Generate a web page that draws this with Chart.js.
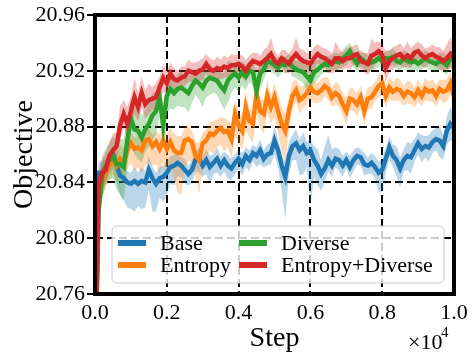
<!DOCTYPE html>
<html>
<head>
<meta charset="utf-8">
<script src="https://cdn.jsdelivr.net/npm/chart.js@4.4.1/dist/chart.umd.min.js"></script>
<style>
  html, body { margin: 0; padding: 0; background: #fff; }
  #wrap { width: 475px; height: 359px; }
</style>
</head>
<body>
<div id="wrap"><canvas id="objChart" width="475" height="359"></canvas></div>
<script>
// training steps (x values)
var steps = [
    0, 100, 200, 300, 400, 500, 600, 700, 800, 900,
    1000, 1100, 1200, 1300, 1400, 1500, 1600, 1700, 1800, 1900,
    2000, 2100, 2200, 2300, 2400, 2500, 2600, 2700, 2800, 2900,
    3000, 3100, 3200, 3300, 3400, 3500, 3600, 3700, 3800, 3900,
    4000, 4100, 4200, 4300, 4400, 4500, 4600, 4700, 4800, 4900,
    5000, 5100, 5200, 5300, 5400, 5500, 5600, 5700, 5800, 5900,
    6000, 6100, 6200, 6300, 6400, 6500, 6600, 6700, 6800, 6900,
    7000, 7100, 7200, 7300, 7400, 7500, 7600, 7700, 7800, 7900,
    8000, 8100, 8200, 8300, 8400, 8500, 8600, 8700, 8800, 8900,
    9000, 9100, 9200, 9300, 9400, 9500, 9600, 9700, 9800, 9900,
    10000
];

var baseMean = [
    20.70, 20.847, 20.847, 20.850, 20.855, 20.860, 20.852, 20.845, 20.843, 20.840,
    20.839, 20.841, 20.839, 20.841, 20.840, 20.849, 20.843, 20.839, 20.843, 20.844,
    20.847, 20.851, 20.852, 20.854, 20.852, 20.849, 20.846, 20.849, 20.856, 20.857,
    20.852, 20.856, 20.851, 20.854, 20.857, 20.852, 20.856, 20.852, 20.850, 20.854,
    20.857, 20.853, 20.859, 20.856, 20.861, 20.859, 20.863, 20.857, 20.860, 20.861,
    20.870, 20.863, 20.852, 20.844, 20.859, 20.866, 20.868, 20.863, 20.866, 20.861,
    20.863, 20.856, 20.852, 20.846, 20.850, 20.856, 20.852, 20.857, 20.856, 20.852,
    20.856, 20.851, 20.856, 20.859, 20.858, 20.853, 20.852, 20.854, 20.851, 20.847,
    20.849, 20.857, 20.865, 20.859, 20.856, 20.850, 20.856, 20.859, 20.858, 20.863,
    20.868, 20.864, 20.866, 20.865, 20.869, 20.871, 20.870, 20.866, 20.877, 20.882,
    20.879
];
var entropyMean = [
    20.70, 20.827, 20.841, 20.847, 20.852, 20.856, 20.852, 20.857, 20.854, 20.863,
    20.868, 20.864, 20.865, 20.863, 20.870, 20.871, 20.866, 20.869, 20.864, 20.870,
    20.864, 20.869, 20.863, 20.861, 20.861, 20.870, 20.871, 20.869, 20.859, 20.856,
    20.868, 20.870, 20.875, 20.874, 20.877, 20.879, 20.876, 20.877, 20.871, 20.889,
    20.881, 20.877, 20.894, 20.884, 20.882, 20.904, 20.891, 20.889, 20.902, 20.894,
    20.901, 20.891, 20.882, 20.877, 20.891, 20.902, 20.906, 20.899, 20.901, 20.904,
    20.908, 20.905, 20.904, 20.906, 20.909, 20.907, 20.901, 20.904, 20.902, 20.896,
    20.891, 20.900, 20.899, 20.896, 20.901, 20.891, 20.900, 20.901, 20.905, 20.909,
    20.911, 20.902, 20.908, 20.905, 20.907, 20.906, 20.902, 20.905, 20.904, 20.901,
    20.906, 20.902, 20.907, 20.905, 20.906, 20.902, 20.907, 20.905, 20.906, 20.911,
    20.902
];
var diverseMean = [
    20.70, 20.820, 20.845, 20.852, 20.856, 20.859, 20.853, 20.853, 20.851, 20.870,
    20.886, 20.878, 20.877, 20.872, 20.878, 20.882, 20.888, 20.891, 20.901, 20.881,
    20.902, 20.907, 20.904, 20.907, 20.908, 20.906, 20.904, 20.909, 20.913, 20.911,
    20.908, 20.913, 20.915, 20.914, 20.913, 20.909, 20.906, 20.913, 20.916, 20.918,
    20.915, 20.919, 20.916, 20.920, 20.919, 20.906, 20.918, 20.921, 20.927, 20.926,
    20.924, 20.922, 20.925, 20.924, 20.926, 20.923, 20.921, 20.920, 20.919, 20.916,
    20.913, 20.919, 20.921, 20.923, 20.925, 20.924, 20.926, 20.927, 20.926, 20.929,
    20.931, 20.934, 20.929, 20.925, 20.929, 20.927, 20.925, 20.926, 20.927, 20.929,
    20.927, 20.929, 20.929, 20.930, 20.927, 20.926, 20.929, 20.927, 20.926, 20.927,
    20.925, 20.927, 20.929, 20.927, 20.926, 20.925, 20.927, 20.926, 20.924, 20.929,
    20.927
];
var bothMean = [
    20.70, 20.838, 20.847, 20.849, 20.859, 20.863, 20.866, 20.881, 20.889, 20.882,
    20.891, 20.901, 20.894, 20.904, 20.896, 20.899, 20.900, 20.901, 20.908, 20.915,
    20.911, 20.918, 20.914, 20.913, 20.915, 20.916, 20.920, 20.919, 20.918, 20.920,
    20.921, 20.925, 20.921, 20.920, 20.922, 20.921, 20.923, 20.922, 20.924, 20.924,
    20.925, 20.923, 20.920, 20.924, 20.927, 20.926, 20.925, 20.927, 20.929, 20.932,
    20.927, 20.925, 20.929, 20.927, 20.925, 20.929, 20.932, 20.929, 20.927, 20.926,
    20.925, 20.929, 20.932, 20.930, 20.929, 20.927, 20.925, 20.929, 20.929, 20.927,
    20.929, 20.929, 20.931, 20.932, 20.927, 20.926, 20.925, 20.931, 20.932, 20.934,
    20.931, 20.922, 20.927, 20.929, 20.931, 20.932, 20.929, 20.931, 20.929, 20.933,
    20.934, 20.931, 20.929, 20.931, 20.932, 20.930, 20.929, 20.927, 20.929, 20.932,
    20.929
];

// distance from the mean to the lower / upper edge of the shaded band, in units of 0.001
var baseLow = [
    8, 8, 8, 8, 8, 10, 12, 14, 16, 18,
    18, 22, 16, 20, 18, 14, 24, 20, 14, 18,
    16, 12, 14, 10, 8, 10, 8, 10, 8, 10,
    8, 10, 12, 8, 10, 8, 8, 10, 8, 8,
    8, 8, 8, 8, 6, 8, 10, 6, 8, 8,
    10, 12, 18, 30, 14, 10, 12, 18, 20, 10,
    40, 12, 14, 12, 10, 8, 8, 6, 8, 8,
    6, 8, 8, 6, 6, 8, 6, 8, 8, 14,
    16, 10, 8, 8, 12, 14, 8, 10, 12, 8,
    8, 10, 8, 10, 8, 8, 12, 10, 10, 12,
    10
];
var baseHigh = [
    8, 8, 8, 7, 6, 6, 8, 8, 8, 8,
    8, 10, 8, 10, 8, 10, 8, 8, 8, 8,
    8, 8, 8, 7, 6, 8, 6, 7, 6, 8,
    6, 8, 8, 6, 8, 7, 6, 8, 7, 6,
    6, 8, 6, 7, 6, 6, 8, 6, 7, 8,
    10, 8, 8, 10, 10, 8, 10, 8, 10, 8,
    8, 10, 12, 10, 16, 18, 12, 8, 8, 7,
    6, 8, 7, 6, 6, 8, 6, 7, 8, 8,
    8, 8, 8, 8, 10, 8, 8, 10, 10, 8,
    8, 10, 7, 9, 8, 8, 10, 8, 10, 12,
    10
];
var entropyLow = [
    10, 12, 12, 10, 10, 10, 12, 12, 14, 14,
    14, 16, 14, 16, 18, 16, 14, 16, 18, 16,
    18, 16, 20, 28, 30, 20, 16, 14, 16, 24,
    18, 14, 12, 14, 12, 12, 14, 12, 14, 16,
    12, 14, 16, 12, 14, 14, 12, 14, 12, 12,
    14, 16, 20, 24, 14, 10, 8, 10, 8, 8,
    8, 8, 7, 8, 7, 8, 7, 8, 8, 8,
    10, 8, 8, 8, 8, 10, 8, 8, 7, 8,
    8, 8, 8, 7, 8, 8, 7, 8, 8, 7,
    8, 7, 8, 7, 8, 8, 7, 8, 8, 8,
    10
];
var entropyHigh = [
    10, 10, 8, 8, 8, 8, 8, 10, 10, 10,
    8, 8, 8, 8, 10, 8, 8, 8, 10, 8,
    10, 10, 12, 12, 12, 10, 10, 8, 10, 12,
    8, 8, 8, 10, 8, 8, 10, 8, 10, 10,
    10, 10, 12, 8, 10, 10, 8, 10, 12, 8,
    10, 12, 12, 12, 10, 10, 8, 10, 8, 8,
    8, 8, 7, 8, 7, 8, 7, 8, 8, 8,
    10, 8, 8, 8, 8, 10, 8, 8, 7, 8,
    8, 8, 8, 7, 8, 8, 7, 8, 8, 7,
    8, 7, 8, 7, 8, 8, 7, 8, 8, 8,
    10
];
var diverseLow = [
    10, 16, 16, 14, 14, 16, 18, 22, 24, 18,
    16, 18, 20, 18, 16, 16, 18, 16, 14, 16,
    12, 14, 12, 12, 14, 12, 14, 12, 10, 12,
    14, 12, 12, 10, 10, 12, 14, 16, 12, 10,
    10, 10, 10, 8, 10, 14, 10, 8, 7, 7,
    6, 7, 6, 6, 6, 7, 6, 7, 8, 10,
    10, 8, 7, 6, 6, 6, 6, 6, 6, 6,
    7, 6, 6, 6, 6, 6, 6, 6, 6, 6,
    5, 5, 6, 6, 6, 6, 6, 6, 6, 6,
    6, 6, 6, 6, 6, 6, 6, 7, 7, 6,
    6
];
var diverseHigh = [
    10, 14, 14, 12, 12, 14, 16, 18, 20, 16,
    14, 16, 18, 16, 14, 14, 16, 14, 12, 14,
    10, 12, 10, 10, 12, 10, 12, 10, 8, 10,
    12, 10, 10, 8, 8, 10, 12, 14, 10, 8,
    8, 8, 8, 7, 8, 12, 8, 7, 6, 6,
    6, 7, 6, 6, 6, 7, 6, 7, 8, 10,
    10, 8, 7, 6, 6, 6, 6, 6, 6, 6,
    7, 6, 6, 6, 6, 6, 6, 6, 6, 6,
    5, 5, 6, 6, 6, 6, 6, 6, 6, 6,
    6, 6, 6, 6, 6, 6, 6, 7, 7, 6,
    6
];
var bothLow = [
    10, 10, 10, 10, 10, 10, 10, 12, 10, 10,
    10, 12, 10, 10, 10, 10, 8, 10, 8, 10,
    8, 8, 8, 7, 8, 7, 8, 7, 8, 7,
    8, 7, 8, 7, 8, 7, 8, 7, 8, 7,
    7, 8, 8, 7, 6, 7, 6, 8, 8, 10,
    7, 6, 6, 8, 7, 7, 10, 7, 8, 7,
    8, 8, 7, 7, 7, 8, 7, 10, 7, 6,
    7, 8, 7, 7, 6, 7, 8, 10, 8, 7,
    8, 10, 7, 8, 7, 8, 7, 8, 7, 6,
    7, 8, 7, 6, 7, 7, 8, 7, 8, 10,
    8
];
var bothHigh = [
    10, 10, 10, 12, 10, 12, 10, 14, 10, 12,
    10, 14, 10, 12, 10, 12, 8, 10, 8, 10,
    8, 8, 8, 7, 8, 7, 8, 7, 8, 7,
    8, 7, 8, 7, 8, 7, 8, 7, 8, 7,
    7, 8, 8, 7, 6, 7, 6, 8, 8, 12,
    7, 6, 6, 8, 7, 7, 12, 7, 8, 7,
    8, 8, 7, 7, 7, 8, 7, 12, 7, 6,
    7, 8, 7, 7, 6, 7, 8, 12, 8, 7,
    8, 12, 7, 8, 7, 8, 7, 10, 7, 6,
    7, 8, 7, 6, 7, 7, 8, 7, 10, 12,
    8
];

var seriesNames = ['Base', 'Entropy', 'Diverse', 'Entropy+Diverse'];
var seriesMeans = [baseMean, entropyMean, diverseMean, bothMean];
var seriesLows = [baseLow, entropyLow, diverseLow, bothLow];
var seriesHighs = [baseHigh, entropyHigh, diverseHigh, bothHigh];
var seriesColors = ['#1f77b4', '#ff7f0e', '#2ca02c', '#d62728'];
var bandColors = ['rgba(31,119,180,0.3)', 'rgba(255,127,14,0.3)', 'rgba(44,160,44,0.3)', 'rgba(214,39,40,0.3)'];

var xTicks = [0, 2000, 4000, 6000, 8000, 10000];
var xTickLabels = ['0.0', '0.2', '0.4', '0.6', '0.8', '1.0'];
var yTicks = [20.76, 20.80, 20.84, 20.88, 20.92, 20.96];
var yTickLabels = ['20.76', '20.80', '20.84', '20.88', '20.92', '20.96'];

var serif = '"Liberation Serif", "DejaVu Serif", serif';

function points(values) {
    return steps.map(function (s, i) { return { x: s, y: values[i] }; });
}

var datasets = [];
// shaded bands first (under every line)
seriesMeans.forEach(function (mean, k) {
    var lo = seriesLows[k], hi = seriesHighs[k];
    datasets.push({
        label: seriesNames[k] + ' upper',
        data: points(mean.map(function (v, i) { return v + hi[i] / 1000; })),
        borderWidth: 0,
        borderColor: 'rgba(0,0,0,0)',
        backgroundColor: bandColors[k],
        pointRadius: 0,
        fill: '+1',
        clip: 0,
        order: 20 - k
    });
    datasets.push({
        label: seriesNames[k] + ' lower',
        data: points(mean.map(function (v, i) { return v - lo[i] / 1000; })),
        borderWidth: 0,
        borderColor: 'rgba(0,0,0,0)',
        pointRadius: 0,
        fill: false,
        clip: 0,
        order: 20 - k
    });
});
seriesMeans.forEach(function (mean, k) {
    datasets.push({
        label: seriesNames[k],
        data: points(mean),
        borderColor: seriesColors[k],
        borderWidth: 4.5,
        pointRadius: 0,
        tension: 0,
        fill: false,
        clip: 0,
        order: 10 - k
    });
});

// dashed grid, thick frame, outward y ticks, legend box and the x10^4 offset text
var axesPlugin = {
    id: 'mplAxes',
    beforeDatasetsDraw: function (chart) {
        var ctx = chart.ctx, a = chart.chartArea;
        var xs = chart.scales.x, ys = chart.scales.y;
        ctx.save();
        ctx.strokeStyle = '#000';
        ctx.lineWidth = 2;
        ctx.setLineDash([8, 4]);
        xTicks.slice(1, -1).forEach(function (v) {
            var px = Math.round(xs.getPixelForValue(v));
            ctx.beginPath(); ctx.moveTo(px, a.top); ctx.lineTo(px, a.bottom); ctx.stroke();
        });
        yTicks.slice(1, -1).forEach(function (v) {
            var py = Math.round(ys.getPixelForValue(v));
            ctx.beginPath(); ctx.moveTo(a.left, py); ctx.lineTo(a.right, py); ctx.stroke();
        });
        ctx.restore();
    },
    afterDatasetsDraw: function (chart) {
        var ctx = chart.ctx, a = chart.chartArea;
        var ys = chart.scales.y;
        ctx.save();
        ctx.strokeStyle = '#000';
        ctx.lineWidth = 2;
        yTicks.forEach(function (v) {
            var py = Math.round(ys.getPixelForValue(v));
            ctx.beginPath(); ctx.moveTo(a.left, py); ctx.lineTo(a.left - 8, py); ctx.stroke();
        });
        ctx.lineWidth = 4;
        ctx.strokeRect(a.left, a.top, a.right - a.left, a.bottom - a.top);
        ctx.restore();
    },
    afterDraw: function (chart) {
        var ctx = chart.ctx;
        ctx.save();
        // legend
        var bx = 112, by = 226, bw = 332, bh = 57, r = 5;
        ctx.beginPath();
        ctx.moveTo(bx + r, by);
        ctx.arcTo(bx + bw, by, bx + bw, by + bh, r);
        ctx.arcTo(bx + bw, by + bh, bx, by + bh, r);
        ctx.arcTo(bx, by + bh, bx, by, r);
        ctx.arcTo(bx, by, bx + bw, by, r);
        ctx.closePath();
        ctx.fillStyle = 'rgba(255,255,255,0.8)';
        ctx.fill();
        ctx.strokeStyle = '#cccccc';
        ctx.lineWidth = 1;
        ctx.stroke();

        var order = [0, 2, 1, 3];
        var cols = [118, 239];
        var rows = [243, 265];
        ctx.font = '22px ' + serif;
        ctx.textBaseline = 'middle';
        ctx.textAlign = 'left';
        order.forEach(function (k, n) {
            var cx = cols[n % 2], cy = rows[Math.floor(n / 2)];
            ctx.strokeStyle = seriesColors[k];
            ctx.lineWidth = 6;
            ctx.beginPath(); ctx.moveTo(cx, cy); ctx.lineTo(cx + 28, cy); ctx.stroke();
            ctx.fillStyle = '#000';
            ctx.fillText(seriesNames[k], cx + 42, cy + 1);
        });

        // offset text
        ctx.fillStyle = '#000';
        ctx.textBaseline = 'alphabetic';
        ctx.font = '22px ' + serif;
        ctx.fillText('\u00d710', 408, 349);
        ctx.font = '15px ' + serif;
        ctx.fillText('4', 441, 337);
        ctx.restore();
    }
};

var ctxObj = document.getElementById('objChart').getContext('2d');
var objChart = new Chart(ctxObj, {
    type: 'line',
    data: { datasets: datasets },
    options: {
        responsive: false,
        animation: false,
        events: [],
        layout: { padding: { top: 15, right: 21, left: 0, bottom: 0 } },
        plugins: {
            legend: { display: false },
            tooltip: { enabled: false }
        },
        scales: {
            x: {
                type: 'linear',
                min: 0,
                max: 10000,
                grid: { display: false, drawTicks: false },
                border: { display: false },
                afterBuildTicks: function (s) { s.ticks = xTicks.map(function (v) { return { value: v }; }); },
                afterFit: function (s) { s.height = 65; s.paddingLeft = 0; s.paddingRight = 0; },
                ticks: {
                    color: '#000',
                    padding: 6,
                    maxRotation: 0,
                    font: { family: serif, size: 22 },
                    callback: function (v, i) { return xTickLabels[i]; }
                },
                title: {
                    display: true,
                    text: 'Step',
                    color: '#000',
                    font: { family: serif, size: 28 },
                    padding: { top: 0, bottom: 4 }
                }
            },
            y: {
                min: 20.76,
                max: 20.96,
                grid: { display: false, drawTicks: false },
                border: { display: false },
                afterBuildTicks: function (s) { s.ticks = yTicks.map(function (v) { return { value: v }; }); },
                afterFit: function (s) { s.width = 95; s.paddingTop = 0; s.paddingBottom = 0; },
                ticks: {
                    color: '#000',
                    padding: 10,
                    font: { family: serif, size: 22 },
                    callback: function (v, i) { return yTickLabels[i]; }
                },
                title: {
                    display: true,
                    text: 'Objective',
                    color: '#000',
                    font: { family: serif, size: 28 },
                    padding: { top: 8, bottom: 0 }
                }
            }
        }
    },
    plugins: [axesPlugin]
});
</script>
</body>
</html>
